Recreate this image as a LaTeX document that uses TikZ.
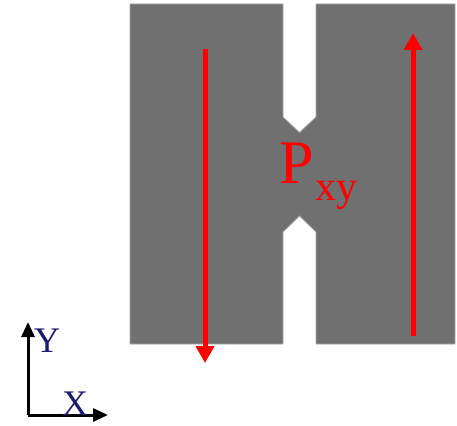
\documentclass[tikz,border=0pt]{standalone}
\usepackage{fontspec}
\setmainfont{Liberation Serif}
\usepackage{xcolor}
\usetikzlibrary{arrows.meta,positioning}
\definecolor{slab}{HTML}{707070}
\definecolor{slabedge}{HTML}{A8A8A8}
\definecolor{current}{HTML}{FF0000}
\definecolor{axisink}{HTML}{1A1A6E}
\tikzset{
  sample/.style={fill=slab,draw=slabedge,line width=0.8pt},
  flowarrow/.style={draw=current,line width=5pt,-{Triangle[width=18pt,length=17pt]}},
  axisarrow/.style={draw=black,line width=3pt,-{Triangle[width=13pt,length=15pt]}},
  axislabel/.style={text=axisink,font=\fontsize{36}{36}\selectfont,inner sep=0pt,anchor=base west},
  biglabel/.style={text=current,inner sep=0pt,anchor=base west}
}
\begin{document}
\begin{tikzpicture}[x=1pt,y=-1pt]
  \useasboundingbox (0,0) rectangle (457,425);
  % slab with the two notched slits
  \path[sample] (130,4) -- (283,4) -- (283,117) -- (299.5,132.5) -- (316,117) -- (316,4)
    -- (455,4) -- (455,344) -- (316,344) -- (316,232) -- (299.5,216) -- (283,232)
    -- (283,344) -- (130,344) -- cycle;
  % current paths
  \coordinate (inTop) at (205,49);
  \coordinate (inBot) at (205,363);
  \coordinate (outBot) at (413,336);
  \coordinate (outTop) at (413,33);
  \draw[flowarrow] (inTop) -- (inBot);
  \draw[flowarrow] (outBot) -- (outTop);
  % label of the bridge
  \node[biglabel,font=\fontsize{62}{62}\selectfont] (pmain) at (279,183) {P};
  \node[biglabel,font=\fontsize{42}{42}\selectfont] (psub) at (315,200) {xy};
  % axes
  \coordinate (orig) at (28,415);
  \coordinate (yend) at (28,322);
  \coordinate (xend) at (108,415);
  \draw[axisarrow] (orig) -- (yend);
  \draw[axisarrow] (orig) -- (xend);
  \node[axislabel] (ylab) at (34,352) {Y};
  \node[axislabel] (xlab) at (62,415) {X};
\end{tikzpicture}
\end{document}
